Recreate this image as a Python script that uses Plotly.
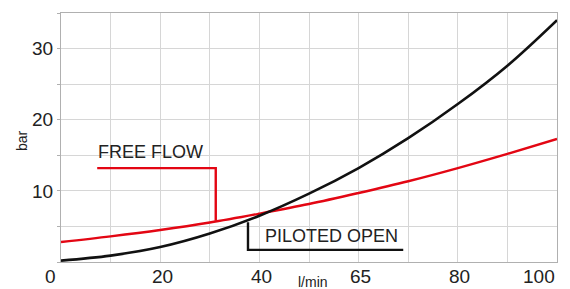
import plotly.graph_objects as go

# Flow (l/min) sample points
flow = [0, 10, 20, 30, 40, 50, 60, 70, 80, 90, 100]
# Pressure drop, piloted open (black)
piloted = [0.2, 0.9, 2.1, 4.0, 6.5, 9.6, 13.2, 17.4, 22.2, 27.6, 34.0]
# Pressure drop, free flow (red)
free = [2.8, 3.6, 4.5, 5.55, 6.8, 8.15, 9.7, 11.35, 13.2, 15.2, 17.3]

# callout leader lines
free_call_x = [7.3, 31.2, 31.2]
free_call_y = [13.2, 13.2, 5.8]
pil_call_x = [37.7, 37.7, 69.0]
pil_call_y = [5.6, 1.7, 1.7]

xtick_vals = [0, 20, 40, 60, 80, 100]
xtick_text = ["0", "20", "40", "65", "80", "100"]

RED = "#e30613"
BLACK = "#111111"
TXT = "#222222"
FONT = "Liberation Sans, Arial, sans-serif"

fig = go.Figure()
fig.add_trace(go.Scatter(x=flow, y=free, mode="lines", line=dict(color=RED, width=2.4, shape="spline"), hoverinfo="skip"))
fig.add_trace(go.Scatter(x=flow, y=piloted, mode="lines", line=dict(color=BLACK, width=2.6, shape="spline"), hoverinfo="skip"))
fig.add_trace(go.Scatter(x=free_call_x, y=free_call_y, mode="lines", line=dict(color=RED, width=2.4), hoverinfo="skip"))
fig.add_trace(go.Scatter(x=pil_call_x, y=pil_call_y, mode="lines", line=dict(color=BLACK, width=2.4), hoverinfo="skip"))

ann = []
for v, t in zip(xtick_vals, xtick_text):
    if v == 0:
        xa, xs = "right", -3
    elif v == 100:
        xa, xs = "right", 0
    else:
        xa, xs = "center", 2
    ann.append(dict(x=v, y=0, xref="x", yref="y", text=t, showarrow=False,
                    xanchor=xa, yanchor="top", xshift=xs, yshift=-2,
                    font=dict(size=19, color=TXT, family=FONT)))
ann.append(dict(x=7.3, y=13.2, xref="x", yref="y", text="FREE FLOW", showarrow=False,
                xanchor="left", yanchor="bottom", xshift=-1, yshift=4,
                font=dict(size=18, color=TXT, family=FONT)))
ann.append(dict(x=41.0, y=1.7, xref="x", yref="y", text="PILOTED OPEN", showarrow=False,
                xanchor="left", yanchor="bottom", xshift=-1, yshift=2,
                font=dict(size=18, color=TXT, family=FONT)))
ann.append(dict(x=50.8, y=0, xref="x", yref="y", text="l/min", showarrow=False,
                xanchor="center", yanchor="top", yshift=-11, borderpad=0,
                font=dict(size=14, color=TXT, family=FONT)))
ann.append(dict(x=0, y=17.0, xref="paper", yref="y", text="bar", showarrow=False,
                textangle=-90, xanchor="center", yanchor="middle", xshift=-39,
                font=dict(size=14, color=TXT, family=FONT)))

fig.update_layout(
    width=570, height=289,
    margin=dict(l=61, r=13, t=13, b=27),
    paper_bgcolor="white", plot_bgcolor="white",
    showlegend=False,
    annotations=ann,
    xaxis=dict(range=[0, 100], dtick=10, showticklabels=False, showgrid=True,
               gridcolor="#d6d6d6", gridwidth=1, zeroline=False,
               showline=True, linecolor="#b0b0b0", linewidth=1, mirror=True,
               ticks="", fixedrange=True),
    yaxis=dict(range=[0, 35], tickvals=[0, 5, 10, 15, 20, 25, 30, 35],
               ticktext=["", "", "10", "", "20", "", "30", ""],
               showgrid=True, gridcolor="#d6d6d6", gridwidth=1, zeroline=False,
               showline=True, linecolor="#b0b0b0", linewidth=1, mirror=True,
               ticks="outside", ticklen=3, tickcolor="#b0b0b0",
               tickfont=dict(size=19, color=TXT, family=FONT), fixedrange=True),
)

fig.write_html("out.html", config={"displayModeBar": False},
               post_script="document.body.style.margin='0';document.body.style.overflow='hidden';")
